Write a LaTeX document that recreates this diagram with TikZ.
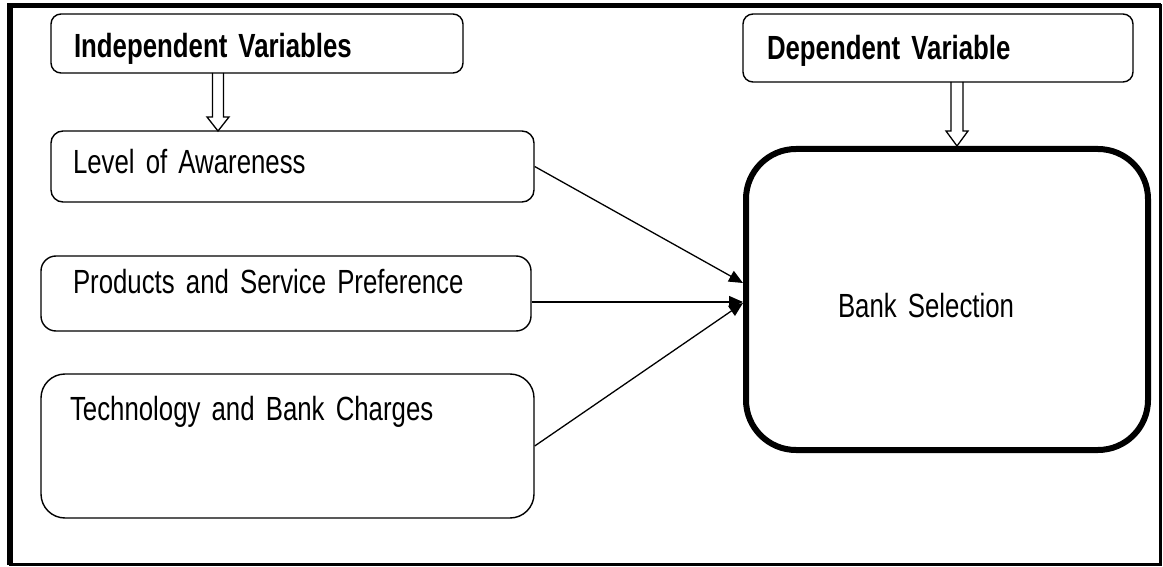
\documentclass[tikz,border=0pt]{standalone}
\usepackage{fontspec}
\setmainfont[FakeStretch=0.77, WordSpace=0.6]{Liberation Sans}
\usetikzlibrary{arrows.meta}

\begin{document}
\begin{tikzpicture}[
    x=1pt, y=-1pt,
    every node/.style={color=black, font=\fontsize{33.5}{36}\selectfont},
    box/.style={draw, line width=1.4pt, rounded corners=#1, align=left, inner ysep=0pt},
    box/.default=12pt,
    bigbox/.style={draw, line width=6pt, rounded corners=50pt, align=left, inner ysep=0pt},
    pile/.style={line width=1.3pt, -{Triangle[length=14pt, width=12pt]}},
    hollow/.style={line width=1.3pt, line join=miter}
    ]
    \useasboundingbox (0,0) rectangle (1163,567);
    % frame
    \draw[line width=3pt] (10,5.5) rectangle (1160.5,564.5);
    \draw[line width=5.5pt] (10,564.5) -- (10,5.5) -- (1160.5,5.5);

    % variables
    \node[box=10pt, minimum width=412pt, minimum height=59pt, text width=366pt,
        inner xsep=23pt, text height=30pt, text depth=1pt] (ind) at (257,43.5)
        {\bfseries Independent Variables};
    \node[box=10pt, minimum width=390pt, minimum height=68pt, text width=342pt,
        inner xsep=24pt, text height=26pt, text depth=2pt] (dep) at (938,48)
        {\bfseries Dependent Variable};

    % factors
    \node[box=12pt, minimum width=483pt, minimum height=71pt, text width=439pt,
        inner xsep=22pt, text height=22pt, text depth=7pt] (level) at (292.5,166.5)
        {Level of Awareness};
    \node[box=15pt, minimum width=490pt, minimum height=75pt, text width=426pt,
        inner xsep=32pt, text height=22pt, text depth=23pt] (prod) at (286,293.5)
        {Products and Service Preference};
    \node[box=24pt, minimum width=493pt, minimum height=144pt, text width=435pt,
        inner xsep=29pt, text height=22pt, text depth=74pt] (tech) at (287.5,446)
        {Technology and Bank Charges};
    \node[bigbox, minimum width=402pt, minimum height=301pt, text width=218pt,
        inner xsep=92pt, text height=36pt, text depth=1pt] (bank) at (947,299.5)
        {Bank Selection};

    % hollow arrows
    \draw[hollow] (212.5,73) -- (212.5,117) -- (207,117) -- (218,131)
        -- (229,117) -- (223.5,117) -- (223.5,73);
    \draw[hollow] (951,82) -- (951,131) -- (946,131) -- (957,146)
        -- (968,131) -- (963,131) -- (963,82);

    % links
    \draw[pile] (level.east) -- ([yshift=16.5pt]bank.west);
    \draw[pile] ([yshift=-8.5pt]prod.east) -- ([yshift=-2.5pt]bank.west);
    \draw[pile] (tech.east) -- ([yshift=-3.5pt]bank.west);
\end{tikzpicture}
\end{document}
